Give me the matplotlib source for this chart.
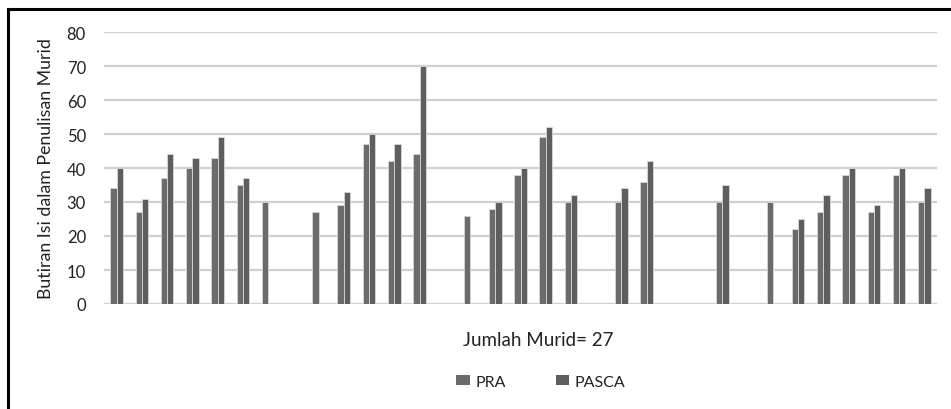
import numpy as np
import matplotlib
matplotlib.use("Agg")
import matplotlib.pyplot as plt
from matplotlib.lines import Line2D
from matplotlib.patches import Patch

nan = np.nan

# 33 slots on the x axis, some empty (27 students)
pra = [34, 27, 37, 40, 43, 35, 30, nan, 27, 29, 47, 42, 44, nan, 26, 28, 38,
       49, 30, nan, 30, 36, nan, nan, 30, nan, 30, 22, 27, 38, 27, 38, 30]
pasca = [40, 31, 44, 43, 49, 37, nan, nan, nan, 33, 50, 47, 70, nan, nan, 30, 40,
         52, 32, nan, 34, 42, nan, nan, 35, nan, nan, 25, 32, 40, 29, 40, 34]
yticks = [0, 10, 20, 30, 40, 50, 60, 70, 80]

pra_col = '#6b6b6b'
pasca_col = '#5e5e5e'

plt.rcParams['font.family'] = ['Lato', 'DejaVu Sans']

fig = plt.figure(figsize=(9.51, 4.10), dpi=100)
ax = fig.add_axes([104/951, 105/410, (937-104)/951, (305-33)/410])

x = np.arange(len(pra))
w = 0.25
ax.bar(x - w/2, pra, width=w, color=pra_col, edgecolor='#d8d8d8', linewidth=0.6, zorder=3)
ax.bar(x + w/2, pasca, width=w, color=pasca_col, edgecolor='#d8d8d8', linewidth=0.6, zorder=3)

ax.set_xlim(-0.5, len(pra) - 0.5)
ax.set_ylim(0, 80)
ax.set_yticks(yticks)
ax.set_yticklabels([str(t) for t in yticks], fontsize=12, color='#222222')
ax.set_xticks([])
ax.tick_params(axis='y', length=0, pad=13)
ax.yaxis.grid(True, color='#d0d0d0', linewidth=1.6, zorder=0)
for s in ax.spines.values():
    s.set_visible(False)

ax.set_ylabel('Butiran Isi dalam Penulisan Murid', fontsize=12.8, color='#222222', labelpad=9)
fig.text(538/951, 1 - 341/410, 'Jumlah Murid= 27', ha='center', va='center',
         fontsize=13.5, color='#222222')

handles = [Patch(facecolor=pra_col, edgecolor='none', label='PRA'),
           Patch(facecolor=pasca_col, edgecolor='none', label='PASCA')]
leg = fig.legend(handles=handles, loc='center', bbox_to_anchor=(541/951, 1 - 383/410), ncol=2,
                 frameon=False, fontsize=11.5, handlelength=0.85, handleheight=0.6,
                 columnspacing=3.1, handletextpad=0.35)
for t in leg.get_texts():
    t.set_color('#222222')

# outer frame (only left and top visible in the source)
fig.add_artist(Line2D([8/951, 8/951], [0, 1 - 10/410], color='black', linewidth=2.2,
                      transform=fig.transFigure))
fig.add_artist(Line2D([8/951, 1], [1 - 10/410, 1 - 10/410], color='black', linewidth=2.2,
                      transform=fig.transFigure))

fig.savefig('out.png', dpi=100)
